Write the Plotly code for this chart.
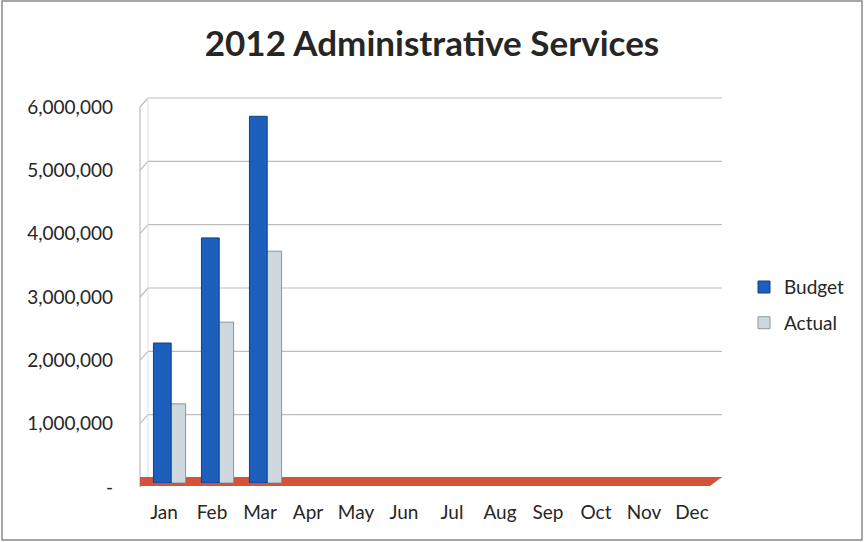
import plotly.graph_objects as go

months = ["Jan", "Feb", "Mar", "Apr", "May", "Jun", "Jul", "Aug", "Sep", "Oct", "Nov", "Dec"]
budget = [2210000, 3870000, 5790000, None, None, None, None, None, None, None, None, None]
actual = [1250000, 2540000, 3660000, None, None, None, None, None, None, None, None, None]
tick_vals = [0, 1000000, 2000000, 3000000, 4000000, 5000000, 6000000]
tick_text = ["-", "1,000,000", "2,000,000", "3,000,000", "4,000,000", "5,000,000", "6,000,000"]
y_max = 6000000

W, H = 864, 542
L, R, T, B = 140, 148, 103, 59
pw, ph = W - L - R, H - T - B
depth_x, depth_up, depth_down = 8, 5, 4

fig = go.Figure()
fig.add_trace(go.Bar(
    x=months, y=actual, name="Actual", legendrank=2, legendgroup="a",
    width=0.36, offset=0.09,
    marker=dict(color="#cdd8de", line=dict(color="#8c979c", width=1)),
))
fig.add_trace(go.Bar(
    x=months, y=budget, name="Budget", legendrank=1, legendgroup="b",
    width=0.37, offset=-0.22,
    marker=dict(color="#1c5fbd", line=dict(color="#123f86", width=1)),
))

shapes = []
grid_col = "#bdbdbd"
# back-wall gridlines and left-wall diagonals
for v in tick_vals:
    yb = v / y_max + depth_up / ph
    yf = v / y_max - depth_down / ph
    shapes.append(dict(type="line", xref="paper", yref="paper", layer="below",
                       x0=depth_x / pw, x1=1 + 6 / pw, y0=yb, y1=yb,
                       line=dict(color=grid_col, width=1.2)))
    shapes.append(dict(type="line", xref="paper", yref="paper", layer="below",
                       x0=0, x1=depth_x / pw, y0=yf, y1=yb,
                       line=dict(color=grid_col, width=1.2)))
# left wall edges
shapes.append(dict(type="line", xref="paper", yref="paper", layer="below",
                   x0=0, x1=0, y0=-depth_down / ph, y1=1 - depth_down / ph,
                   line=dict(color=grid_col, width=1.2)))
shapes.append(dict(type="line", xref="paper", yref="paper", layer="below",
                   x0=depth_x / pw, x1=depth_x / pw, y0=depth_up / ph, y1=1 + depth_up / ph,
                   line=dict(color="#e0e0e0", width=1)))
# red floor strip
shapes.append(dict(type="path", xref="paper", yref="paper", layer="below",
                   path=f"M 0,{-3/ph} L {570/pw},{-3/ph} L {582/pw},{6/ph} L 0,{6/ph} Z",
                   fillcolor="#d4513a", line=dict(width=0)))
# outer border
shapes.append(dict(type="rect", xref="paper", yref="paper",
                   x0=-(L - 2) / pw, x1=1 + (R - 2) / pw,
                   y0=-(B - 2) / ph, y1=1 + (T - 1) / ph,
                   line=dict(color="#8a8a8a", width=1.5), fillcolor="rgba(0,0,0,0)"))

fig.update_layout(
    width=W, height=H,
    margin=dict(l=L, r=R, t=T, b=B),
    paper_bgcolor="white", plot_bgcolor="rgba(0,0,0,0)",
    title=dict(text="<b>2012 Administrative Services</b>", x=0.5, xanchor="center",
               y=1 - 44 / H, yanchor="middle",
               font=dict(family="Lato, Open Sans, sans-serif", size=35, color="#262626")),
    font=dict(family="Lato, Open Sans, sans-serif", size=19, color="#262626"),
    barmode="overlay",
    showlegend=True,
    legend=dict(x=1 + 28 / pw, y=0.468, xanchor="left", yanchor="middle",
                font=dict(size=19, color="#262626"), itemwidth=30, tracegroupgap=8),
    shapes=shapes,
    xaxis=dict(categoryorder="array", categoryarray=months, range=[-0.5, 11.5],
               showgrid=False, showline=False, zeroline=False, ticks="",
               ticklabelstandoff=16),
    yaxis=dict(range=[0, y_max], tickvals=tick_vals, ticktext=tick_text,
               showgrid=False, zeroline=False, showline=False, ticks="",
               ticklabelstandoff=26, ticklabelshift=4),
)

fig.write_html("out.html")
